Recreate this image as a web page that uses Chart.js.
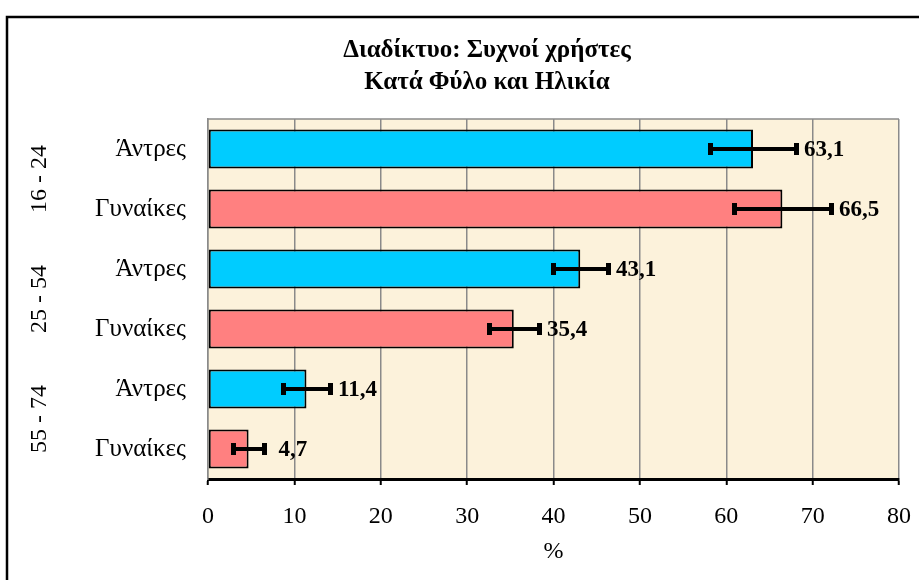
<!DOCTYPE html>
<html lang="el">
<head>
<meta charset="utf-8">
<title>Διαδίκτυο: Συχνοί χρήστες</title>
<script src="https://cdn.jsdelivr.net/npm/chart.js@4.4.1/dist/chart.umd.min.js"></script>
<style>
    html, body { margin: 0; padding: 0; background: #ffffff; }
    #wrap { width: 919px; height: 580px; position: relative; }
</style>
</head>
<body>
<div id="wrap"><canvas id="grafico"></canvas></div>
<script>
// Dados do gráfico
const tituloLinhas = ['Διαδίκτυο: Συχνοί χρήστες', 'Κατά Φύλο και Ηλικία'];
const categorias = ['Άντρες', 'Γυναίκες', 'Άντρες', 'Γυναίκες', 'Άντρες', 'Γυναίκες'];
const faixasEtarias = ['16 - 24', '25 - 54', '55 - 74'];
const valores = [63.1, 66.5, 43.1, 35.4, 11.4, 4.7];
const erros = [5.0, 5.6, 3.2, 2.9, 2.7, 1.8];
const ticksX = [0, 10, 20, 30, 40, 50, 60, 70, 80];
const tituloEixoX = '%';

const COR_HOMEM = '#00CCFF';
const COR_MULHER = '#FF8080';
const FONTE = "'Liberation Serif', 'Times New Roman', serif";

// fundo, moldura externa e área do gráfico
const pluginFundo = {
    id: 'fundo',
    beforeDraw(chart) {
        const { ctx, chartArea: a } = chart;
        ctx.save();
        ctx.fillStyle = '#ffffff';
        ctx.fillRect(0, 0, chart.width, chart.height);
        ctx.fillStyle = '#FCF2DB';
        ctx.fillRect(a.left, a.top, a.right - a.left, a.bottom - a.top);
        ctx.strokeStyle = '#000000';
        ctx.lineWidth = 2.5;
        ctx.strokeRect(7, 17, chart.width + 50, chart.height + 50);
        ctx.restore();
    }
};

// barras de erro, rótulos dos valores, faixas etárias e título
const pluginExtras = {
    id: 'extras',
    afterDatasetsDraw(chart) {
        const { ctx, chartArea: a } = chart;
        const x = chart.scales.x;
        const y = chart.scales.y;
        ctx.save();

        // borda cinza em cima
        ctx.strokeStyle = '#8a8a8a';
        ctx.lineWidth = 1.5;
        ctx.beginPath();
        ctx.moveTo(a.left, a.top);
        ctx.lineTo(a.right, a.top);
        ctx.stroke();

        valores.forEach((v, i) => {
            const yc = Math.round(y.getPixelForValue(i));
            const x0 = Math.round(x.getPixelForValue(v - erros[i]));
            const x1 = Math.round(x.getPixelForValue(v + erros[i]));
            ctx.fillStyle = '#000000';
            ctx.fillRect(x0, yc - 2, x1 - x0, 4);
            ctx.fillRect(x0 - 2, yc - 6, 5, 12);
            ctx.fillRect(x1 - 2, yc - 6, 5, 12);

            const xl = Math.max(x1 + 8, x.getPixelForValue(v) + 30);
            ctx.font = 'bold 23px ' + FONTE;
            ctx.textAlign = 'left';
            ctx.textBaseline = 'middle';
            ctx.fillText(v.toFixed(1).replace('.', ','), xl, yc + 1);
        });

        ctx.font = '24px ' + FONTE;
        ctx.textAlign = 'center';
        ctx.textBaseline = 'middle';
        faixasEtarias.forEach((g, k) => {
            const ym = (y.getPixelForValue(2 * k) + y.getPixelForValue(2 * k + 1)) / 2;
            ctx.save();
            ctx.translate(40, ym);
            ctx.rotate(-Math.PI / 2);
            ctx.fillText(g, 0, 0);
            ctx.restore();
        });

        ctx.font = 'bold 25px ' + FONTE;
        tituloLinhas.forEach((t, k) => ctx.fillText(t, 487, 51 + k * 32));
        ctx.restore();
    }
};

const ctxBar = document.getElementById('grafico').getContext('2d');
new Chart(ctxBar, {
    type: 'bar',
    data: {
        labels: categorias,
        datasets: [{
            data: valores,
            backgroundColor: categorias.map((c, i) => i % 2 === 0 ? COR_HOMEM : COR_MULHER),
            borderColor: '#000000',
            borderWidth: 2,
            borderSkipped: false,
            barPercentage: 0.65,
            categoryPercentage: 1
        }]
    },
    options: {
        indexAxis: 'y',
        responsive: true,
        maintainAspectRatio: false,
        animation: false,
        layout: { padding: { top: 119, right: 20, left: 0, bottom: 0 } },
        plugins: { legend: { display: false }, tooltip: { enabled: false } },
        scales: {
            x: {
                min: 0, max: 80,
                afterBuildTicks: (s) => { s.ticks = ticksX.map(v => ({ value: v })); },
                afterFit: (s) => { s.height = 101; s.paddingLeft = 0; s.paddingRight = 0; },
                grid: { color: '#8a8a8a', lineWidth: 1.5, tickColor: '#000000', tickLength: 6, tickWidth: 2 },
                border: { color: '#000000', width: 3 },
                ticks: { color: '#000000', padding: 17, maxRotation: 0, font: { family: FONTE, size: 24 } },
                title: { display: true, text: tituloEixoX, color: '#000000', padding: { top: 0, bottom: 14 }, font: { family: FONTE, size: 24 } }
            },
            y: {
                afterFit: (s) => { s.width = 208; },
                grid: { drawOnChartArea: false, drawTicks: false },
                border: { color: '#8a8a8a', width: 1.5 },
                ticks: { color: '#000000', padding: 22, font: { family: FONTE, size: 25 } }
            }
        }
    },
    plugins: [pluginFundo, pluginExtras]
});
</script>
</body>
</html>
